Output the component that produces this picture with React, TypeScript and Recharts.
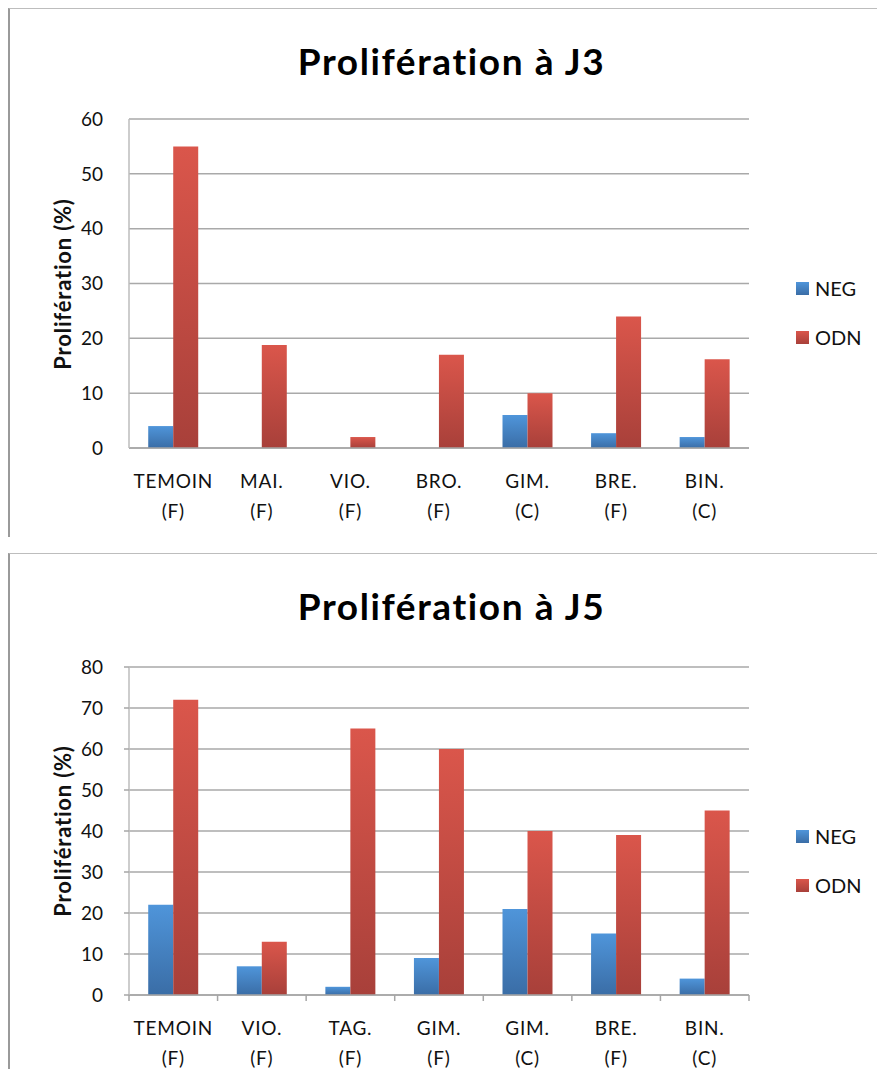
import { BarChart, Bar, XAxis, YAxis, CartesianGrid } from 'recharts';

const j3Categories = ['TEMOIN', 'MAI.', 'VIO.', 'BRO.', 'GIM.', 'BRE.', 'BIN.'];
const j3Types = ['(F)', '(F)', '(F)', '(F)', '(C)', '(F)', '(C)'];
const j3Neg = [4, 0, 0, 0, 6, 2.7, 2];
const j3Odn = [55, 18.8, 2, 17, 10, 24, 16.2];
const j3Ticks = [0, 10, 20, 30, 40, 50, 60];

const j5Categories = ['TEMOIN', 'VIO.', 'TAG.', 'GIM.', 'GIM.', 'BRE.', 'BIN.'];
const j5Types = ['(F)', '(F)', '(F)', '(F)', '(C)', '(F)', '(C)'];
const j5Neg = [22, 7, 2, 9, 21, 15, 4];
const j5Odn = [72, 13, 65, 60, 40, 39, 45];
const j5Ticks = [0, 10, 20, 30, 40, 50, 60, 70, 80];

const seriesNames = ['NEG', 'ODN'];
const seriesTop = ['#4f95da', '#da564b'];
const seriesBottom = ['#3a6da6', '#a8403a'];

const FONT = 'Lato, "Open Sans", sans-serif';
const CHART_W = 875;
const Y_AXIS_W = 119;
const RIGHT = 136;
const PLOT_W = CHART_W - Y_AXIS_W - RIGHT;

function CategoryTick(props: any) {
  const { x, y, payload, index, count, edgeTicks } = props;
  const [name, type] = String(payload.value).split('\n');
  const step = PLOT_W / count;
  return (
    <g>
      {edgeTicks && (
        <line x1={x - step / 2} x2={x - step / 2} y1={y} y2={y + 6} stroke="#a6a6a6" strokeWidth={1.5} />
      )}
      {edgeTicks && index === count - 1 && (
        <line x1={x + step / 2} x2={x + step / 2} y1={y} y2={y + 6} stroke="#a6a6a6" strokeWidth={1.5} />
      )}
      <text x={x} y={y + 40} textAnchor="middle" fontSize={19} letterSpacing={0.8} fill="#111" fontFamily={FONT}>
        {name}
      </text>
      <text x={x} y={y + 70} textAnchor="middle" fontSize={19} letterSpacing={0.8} fill="#111" fontFamily={FONT}>
        {type}
      </text>
    </g>
  );
}

function LegendBox({ top }: { top: number }) {
  return (
    <div style={{ position: 'absolute', left: 786, top, fontFamily: FONT }}>
      {seriesNames.map((n, i) => (
        <div key={n} style={{ display: 'flex', alignItems: 'center', height: 13, marginBottom: i === 0 ? 36 : 0 }}>
          <span
            style={{
              display: 'inline-block',
              width: 13,
              height: 13,
              background: `linear-gradient(${seriesTop[i]}, ${seriesBottom[i]})`,
              marginRight: 6,
            }}
          />
          <span style={{ fontSize: 20, color: '#111', lineHeight: '13px' }}>{n}</span>
        </div>
      ))}
    </div>
  );
}

interface ProlifProps {
  id: string;
  title: string;
  categories: string[];
  types: string[];
  neg: number[];
  odn: number[];
  ticks: number[];
  boxHeight: number;
  chartHeight: number;
  plotTop: number;
  plotHeight: number;
  edgeTicks: boolean;
  legendTop: number;
  marginTop: number;
}

function ProlifChart(p: ProlifProps) {
  const xAxisH = p.chartHeight - p.plotTop - p.plotHeight;
  const data = p.categories.map((c, i) => ({
    label: `${c}\n${p.types[i]}`,
    NEG: p.neg[i],
    ODN: p.odn[i],
  }));
  const max = p.ticks[p.ticks.length - 1];

  return (
    <div
      style={{
        position: 'relative',
        width: 877,
        height: p.boxHeight,
        boxSizing: 'border-box',
        borderLeft: '2px solid #9a9a9a',
        borderTop: '1px solid #bdbdbd',
        marginTop: p.marginTop,
        fontFamily: FONT,
      }}
    >
      <div
        style={{
          position: 'absolute',
          left: 4,
          top: 33,
          width: CHART_W,
          textAlign: 'center',
          fontSize: 37,
          lineHeight: '37px',
          letterSpacing: 1.6,
          fontWeight: 700,
          color: '#000',
        }}
      >
        {p.title}
      </div>
      <div
        style={{
          position: 'absolute',
          left: 52,
          top: p.plotTop + p.plotHeight / 2,
          transform: 'translate(-50%, -50%) rotate(-90deg)',
          whiteSpace: 'nowrap',
          fontSize: 22,
          letterSpacing: 0.8,
          fontWeight: 700,
          color: '#111',
        }}
      >
        Prolifération (%)
      </div>
      <LegendBox top={p.legendTop} />
      <BarChart
        width={CHART_W}
        height={p.chartHeight}
        data={data}
        margin={{ top: p.plotTop, right: RIGHT, bottom: 0, left: 0 }}
        barCategoryGap="21.7%"
        barGap={0}
        style={{ overflow: 'visible' }}
      >
        <defs>
          {seriesNames.map((n, i) => (
            <linearGradient key={n} id={`${p.id}-${n}`} x1="0" y1="0" x2="0" y2="1">
              <stop offset="0%" stopColor={seriesTop[i]} />
              <stop offset="100%" stopColor={seriesBottom[i]} />
            </linearGradient>
          ))}
        </defs>
        <CartesianGrid vertical={false} stroke="#a9a9a9" strokeWidth={1.5} />
        <XAxis
          dataKey="label"
          height={xAxisH}
          axisLine={{ stroke: '#a6a6a6', strokeWidth: 1.5 }}
          tickLine={false}
          tickSize={0}
          tickMargin={0}
          interval={0}
          tick={(tp: any) => <CategoryTick {...tp} count={data.length} edgeTicks={p.edgeTicks} />}
        />
        <YAxis
          width={Y_AXIS_W}
          domain={[0, max]}
          ticks={p.ticks}
          interval={0}
          axisLine={{ stroke: '#bdbdbd', strokeWidth: 1.5 }}
          tickLine={p.edgeTicks ? { stroke: '#a6a6a6', strokeWidth: 1.5 } : false}
          tickSize={p.edgeTicks ? 5 : 0}
          tickMargin={p.edgeTicks ? 21 : 26}
          tick={{ fontSize: 19, fill: '#111', fontFamily: FONT }}
        />
        {seriesNames.map(n => (
          <Bar key={n} dataKey={n} fill={`url(#${p.id}-${n})`} isAnimationActive={false} />
        ))}
      </BarChart>
    </div>
  );
}

export default function App() {
  return (
    <div style={{ width: 877 }}>
      <ProlifChart
        id="j3"
        title="Prolifération à J3"
        categories={j3Categories}
        types={j3Types}
        neg={j3Neg}
        odn={j3Odn}
        ticks={j3Ticks}
        boxHeight={529}
        chartHeight={528}
        plotTop={110}
        plotHeight={329}
        edgeTicks={false}
        legendTop={273}
        marginTop={0}
      />
      <ProlifChart
        id="j5"
        title="Prolifération à J5"
        categories={j5Categories}
        types={j5Types}
        neg={j5Neg}
        odn={j5Odn}
        ticks={j5Ticks}
        boxHeight={516}
        chartHeight={522}
        plotTop={113}
        plotHeight={328}
        edgeTicks={true}
        legendTop={276}
        marginTop={16}
      />
    </div>
  );
}
